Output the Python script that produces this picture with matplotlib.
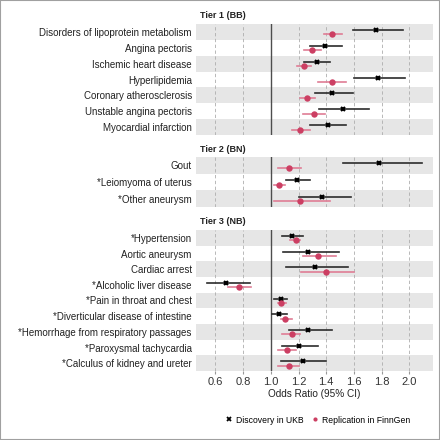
import matplotlib
matplotlib.use("Agg")
import matplotlib.pyplot as plt
from matplotlib.lines import Line2D
from matplotlib.patches import Rectangle

plt.rcParams['font.family'] = ['Liberation Sans', 'DejaVu Sans']

# tier titles and phenotypes (top to bottom)
tiers = ["Tier 1 (BB)", "Tier 2 (BN)", "Tier 3 (NB)"]
labels = [
    ["Disorders of lipoprotein metabolism", "Angina pectoris", "Ischemic heart disease",
     "Hyperlipidemia", "Coronary atherosclerosis", "Unstable angina pectoris",
     "Myocardial infarction"],
    ["Gout", "*Leiomyoma of uterus", "*Other aneurysm"],
    ["*Hypertension", "Aortic aneurysm", "Cardiac arrest", "*Alcoholic liver disease",
     "*Pain in throat and chest", "*Diverticular disease of intestine",
     "*Hemorrhage from respiratory passages", "*Paroxysmal tachycardia",
     "*Calculus of kidney and ureter"],
]

# discovery in UKB: odds ratio, lower, upper
ukb_or = [[1.76, 1.39, 1.33, 1.77, 1.44, 1.52, 1.41],
          [1.78, 1.19, 1.37],
          [1.15, 1.27, 1.32, 0.68, 1.07, 1.06, 1.27, 1.20, 1.23]]
ukb_lo = [[1.59, 1.28, 1.24, 1.60, 1.32, 1.35, 1.28],
          [1.52, 1.11, 1.20],
          [1.08, 1.09, 1.11, 0.54, 1.02, 1.01, 1.13, 1.08, 1.07]]
ukb_hi = [[1.95, 1.51, 1.43, 1.97, 1.59, 1.71, 1.54],
          [2.09, 1.28, 1.58],
          [1.23, 1.49, 1.56, 0.85, 1.12, 1.12, 1.44, 1.34, 1.40]]

# replication in FinnGen: odds ratio, lower, upper
fg_or = [[1.44, 1.30, 1.24, 1.44, 1.26, 1.31, 1.21],
         [1.13, 1.06, 1.21],
         [1.18, 1.34, 1.40, 0.77, 1.07, 1.10, 1.15, 1.12, 1.13]]
fg_lo = [[1.38, 1.24, 1.19, 1.34, 1.21, 1.23, 1.15],
         [1.05, 1.02, 1.02],
         [1.14, 1.23, 1.22, 0.69, 1.05, 1.07, 1.08, 1.05, 1.05]]
fg_hi = [[1.51, 1.36, 1.29, 1.54, 1.32, 1.39, 1.28],
         [1.22, 1.10, 1.43],
         [1.21, 1.47, 1.60, 0.86, 1.11, 1.15, 1.21, 1.18, 1.20]]

xticks = [0.6, 0.8, 1.0, 1.2, 1.4, 1.6, 1.8, 2.0]

W, H = 440, 440
red = "#CC3F63"
red_line = "#DF7D95"
dark = "#2B2B2B"

fig = plt.figure(figsize=(W / 100, H / 100), dpi=100)

# panel top/bottom in pixels
panels = [(24, 135), (157, 207), (230, 371)]
title_y = [15, 149, 221]
left, right = 196, 433

for i in range(3):
    top, bot = panels[i]
    ax = fig.add_axes([left / W, 1 - bot / H, (right - left) / W, (bot - top) / H])
    n = len(labels[i])
    for r in range(n):
        if r % 2 == 0:
            ax.axhspan(r - 0.5, r + 0.5, color="#E6E6E6", lw=0, zorder=0)
    for xt in xticks:
        if xt == 1.0:
            ax.axvline(xt, color="#4D4D4D", lw=1.0, zorder=1)
        else:
            ax.axvline(xt, color="#ADADAD", lw=0.6, ls=(0, (4, 3)), zorder=1)
    ys = list(range(n))
    for r in range(n):
        yb = r - 0.12
        yr = r + 0.16
        ax.plot([ukb_lo[i][r], ukb_hi[i][r]], [yb, yb], color=dark, lw=1.2, zorder=3)
        ax.plot(ukb_or[i][r], yb, marker="x", color="black", ms=3.5, mew=1.5, zorder=4)
        ax.plot([fg_lo[i][r], fg_hi[i][r]], [yr, yr], color=red_line, lw=1.2, zorder=3)
        ax.plot(fg_or[i][r], yr, marker="o", color=red, ms=4.6, mew=0, zorder=4)
    ax.set_xlim(0.46, 2.17)
    ax.set_ylim(n - 0.5, -0.5)
    ax.set_yticks(ys)
    ax.set_yticklabels(labels[i], fontsize=7, color="#222222")
    ax.tick_params(axis="y", length=0, pad=3)
    for s in ax.spines.values():
        s.set_visible(False)
    if i == 2:
        ax.set_xticks(xticks)
        ax.set_xticklabels([f"{x:.1f}" for x in xticks], fontsize=8, color="#333333")
        ax.tick_params(axis="x", length=2, color="#999999", pad=2)
        ax.set_xlabel("Odds Ratio (95% CI)", fontsize=7.2, color="#222222", labelpad=1.5)
    else:
        ax.set_xticks([])
    fig.text(200 / W, 1 - title_y[i] / H, tiers[i], fontsize=6.5, fontweight="bold",
             color="#222222", va="center", ha="left")

handles = [
    Line2D([], [], marker="x", color="black", ls="none", ms=3, mew=1.3),
    Line2D([], [], marker="o", color=red, ls="none", ms=3, mew=0),
]
fig.legend(handles, ["Discovery in UKB", "Replication in FinnGen"], loc="center",
           bbox_to_anchor=(318 / W, 1 - 420 / H), ncol=2, frameon=False, fontsize=6.2,
           handlelength=0.8, handletextpad=0.4, columnspacing=1.0)

fig.patches.append(Rectangle((0, 0), 1, 1, transform=fig.transFigure, fill=False,
                             edgecolor="#A0A0A0", lw=1.5))

fig.savefig("out.png", dpi=100)
